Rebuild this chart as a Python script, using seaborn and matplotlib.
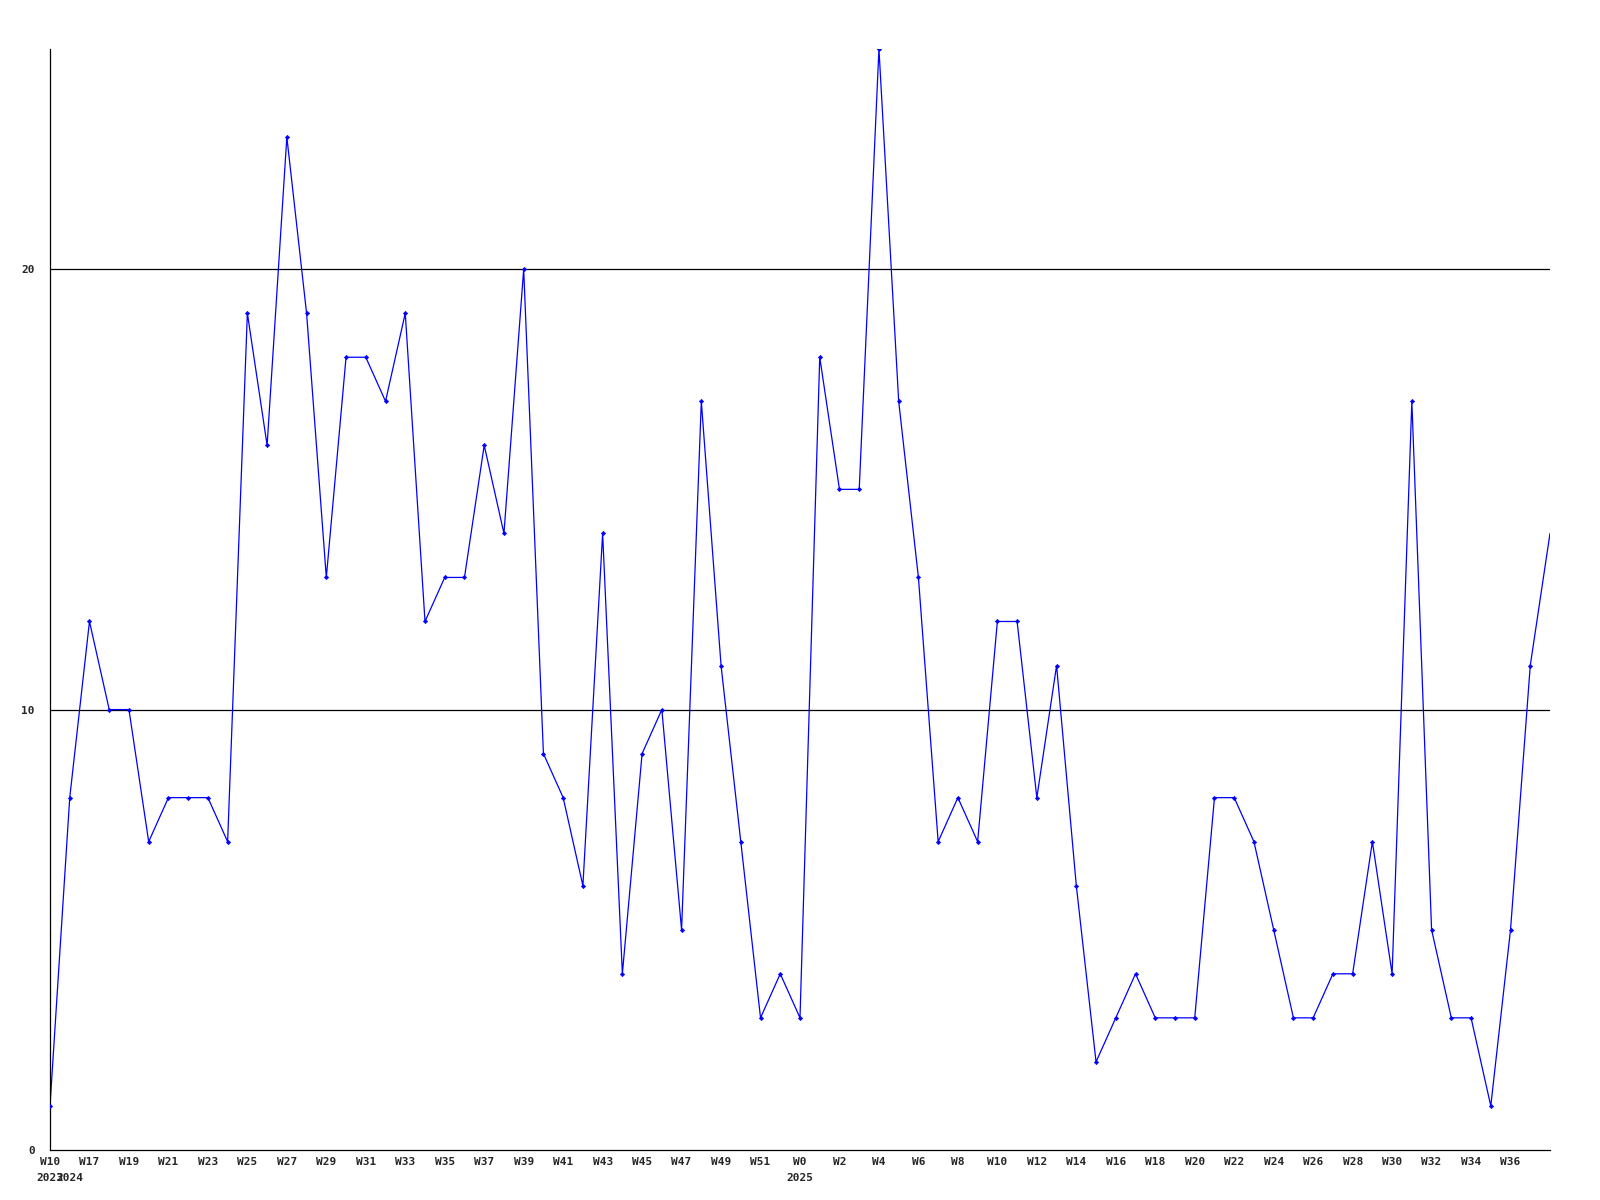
import matplotlib
matplotlib.use('Agg')
import matplotlib.pyplot as plt
import matplotlib.transforms as mtransforms
import seaborn as sns
import pandas as pd

# semanas: 2023 W10, 2024 W16..W52, 2025 W0..W38
years = ['2023'] + ['2024'] * 37 + ['2025'] * 39
weeks = [10] + list(range(16, 53)) + list(range(0, 39))
values = [1, 8, 12, 10, 10, 7, 8, 8, 8, 7,
          19, 16, 23, 19, 13, 18, 18, 17, 19, 12,
          13, 13, 16, 14, 20, 9, 8, 6, 14, 4,
          9, 10, 5, 17, 11, 7, 3, 4, 3, 18,
          15, 15, 25, 17, 13, 7, 8, 7, 12, 12,
          8, 11, 6, 2, 3, 4, 3, 3, 3, 8,
          8, 7, 5, 3, 3, 4, 4, 7, 4, 17,
          5, 3, 3, 1, 5, 11, 14]
year_marks = {0: '2023', 1: '2024', 38: '2025'}

df = pd.DataFrame({'idx': range(len(values)), 'value': values,
                   'week': ['W%d' % w for w in weeks], 'year': years})

sns.set_style('white')
plt.rcParams['font.family'] = ['DejaVu Sans Mono']

fig = plt.figure(figsize=(16, 12), dpi=100)
ax = fig.add_axes([0.03125, 0.0417, 0.9375, 0.9175])

sns.lineplot(data=df, x='idx', y='value', color='#0000ff', linewidth=0.9, ax=ax)
sns.scatterplot(data=df.iloc[:-1], x='idx', y='value', color='#0000ff', marker='D',
                s=5, edgecolor='#0000ff', linewidth=0.4, ax=ax, zorder=3)

for yv in [10, 20]:
    ax.axhline(yv, color='black', linewidth=0.9, zorder=1)

ax.set_xlim(0, len(values) - 1)
ax.set_ylim(0, 25)
ax.set_yticks([0, 10, 20])
ax.set_yticklabels(['0', '10', '20'], fontsize=8, fontweight='bold')
tick_idx = list(range(0, len(values) - 1, 2))
ax.set_xticks(tick_idx)
ax.set_xticklabels([df['week'][i] for i in tick_idx], fontsize=8, fontweight='bold')
ax.tick_params(axis='both', length=0)
ax.tick_params(axis='y', pad=11)
ax.tick_params(axis='x', pad=5)

trans = mtransforms.blended_transform_factory(ax.transData, ax.transAxes)
for i, y in year_marks.items():
    ax.text(i, -0.021, y, transform=trans, ha='center', va='top',
            fontsize=8, fontweight='bold')

ax.set_xlabel('')
ax.set_ylabel('')
for s in ['top', 'right']:
    ax.spines[s].set_visible(False)
for s in ['left', 'bottom']:
    ax.spines[s].set_color('black')
    ax.spines[s].set_linewidth(0.9)

fig.savefig('out.png', dpi=100)
